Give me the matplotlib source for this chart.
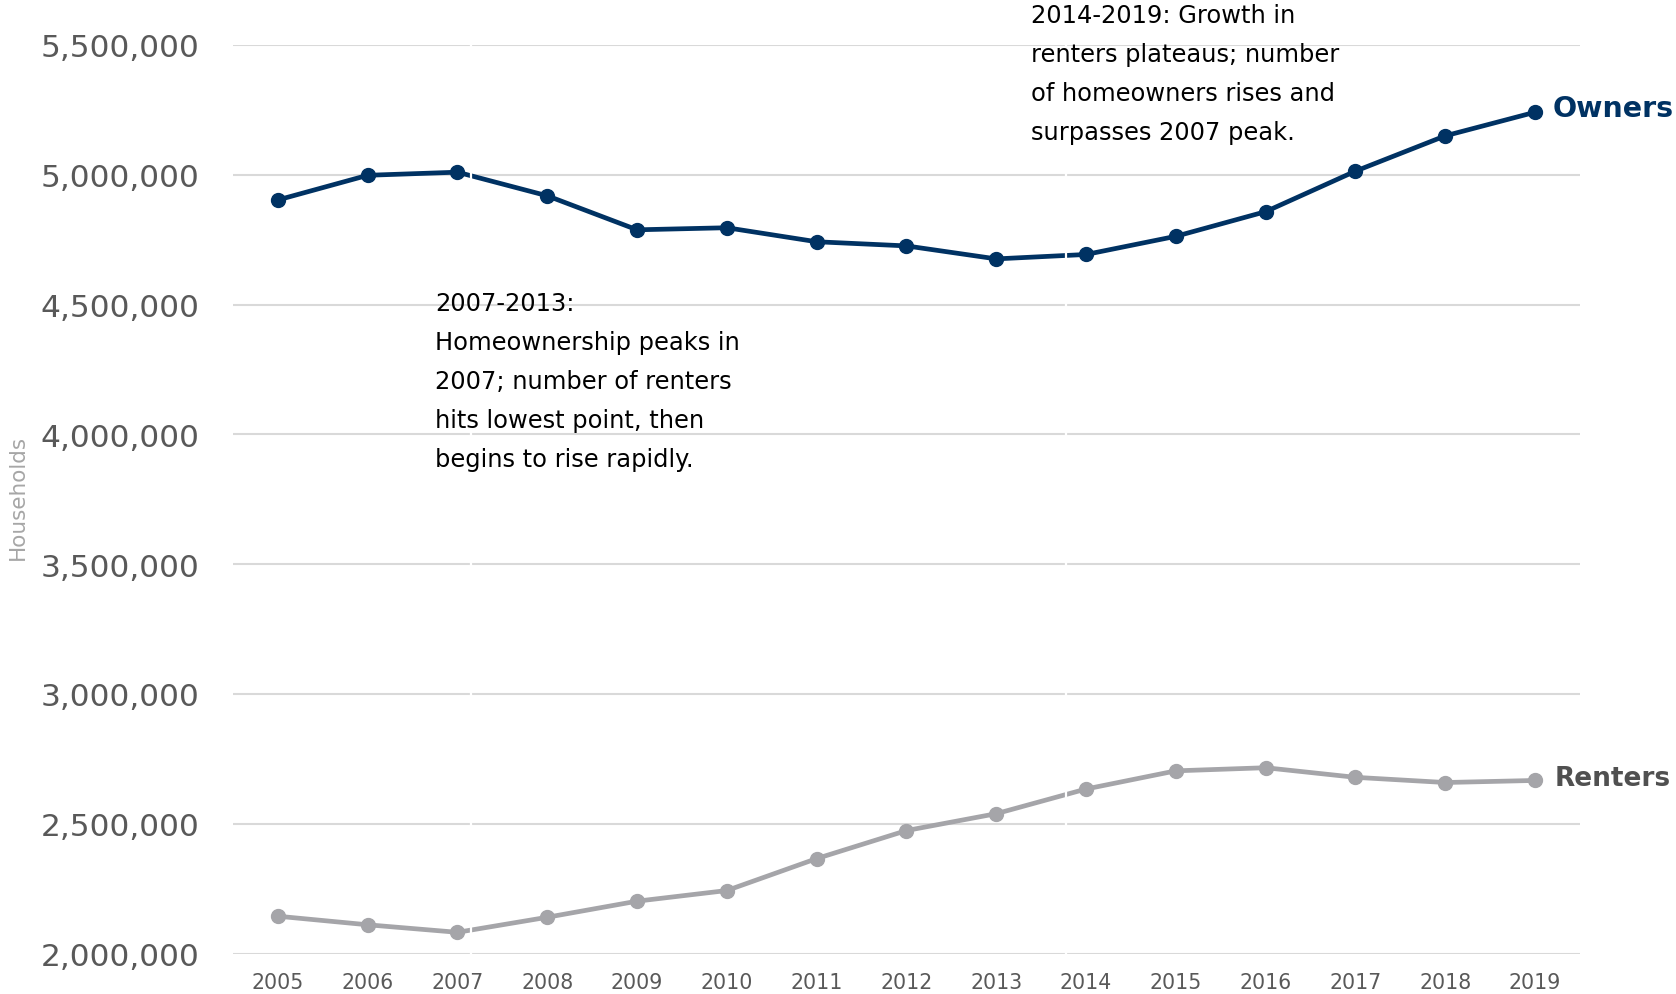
import matplotlib
matplotlib.use("Agg")
import matplotlib.pyplot as plt
from matplotlib.ticker import FuncFormatter

years = list(range(2005, 2020))
owners = [4903000, 4998000, 5010000, 4919000, 4788000, 4796000, 4742000, 4726000,
          4676000, 4693000, 4763000, 4858000, 5014000, 5150000, 5241000]
renters = [2144000, 2111000, 2082000, 2140000, 2202000, 2243000, 2366000, 2474000,
           2539000, 2634000, 2704000, 2716000, 2679000, 2659000, 2667000]
y_ticks = [2000000, 2500000, 3000000, 3500000, 4000000, 4500000, 5000000, 5500000]

NAVY = "#003263"
GRAY = "#A5A5A9"
TXT = "#595959"

plt.rcParams["font.family"] = ["DejaVu Sans"]

fig = plt.figure(figsize=(16.76, 9.95), dpi=100)
ax = fig.add_axes([0.139, 0.0406, 0.8037, 0.9132])

for y in y_ticks:
    ax.axhline(y, color="#D9D9D9", lw=1.5, zorder=0)

ax.plot(years, owners, color=NAVY, lw=3.4, marker="o", ms=10, zorder=3)
ax.plot(years, renters, color=GRAY, lw=3.4, marker="o", ms=10, zorder=3)

# period separators
for xs in (2007.15, 2013.78):
    ax.axvline(xs, color="white", lw=1.6, zorder=4)

ax.set_xlim(2004.5, 2019.5)
ax.set_ylim(2000000, 5500000)
ax.set_yticks(y_ticks)
ax.yaxis.set_major_formatter(FuncFormatter(lambda v, p: f"{int(v):,}"))
ax.set_xticks(years)
ax.tick_params(axis="y", length=0, pad=24, labelsize=22.5, labelcolor=TXT)
ax.tick_params(axis="x", length=0, pad=13, labelsize=14.8, labelcolor=TXT)
for s in ax.spines.values():
    s.set_visible(False)

fig.text(0.0105, 0.5, "Households", rotation=90, ha="center", va="center",
         fontsize=15.5, color="#A6A6A6")

ax.text(2006.75, 4552000,
        "2007-2013:\nHomeownership peaks in\n2007; number of renters\nhits lowest point, then\nbegins to rise rapidly.",
        ha="left", va="top", fontsize=17.4, color="black", linespacing=1.79, zorder=6)
ax.text(2013.39, 5660000,
        "2014-2019: Growth in\nrenters plateaus; number\nof homeowners rises and\nsurpasses 2007 peak.",
        ha="left", va="top", fontsize=17.4, color="black", linespacing=1.79,
        clip_on=False, zorder=6)

ax.text(2019.19, owners[-1] + 15000, "Owners", ha="left", va="center", fontsize=20.5,
        fontweight="bold", color=NAVY, clip_on=False)
ax.text(2019.22, renters[-1] + 10000, "Renters", ha="left", va="center", fontsize=19,
        fontweight="bold", color="#505050", clip_on=False)

fig.savefig("out.png", dpi=100)
